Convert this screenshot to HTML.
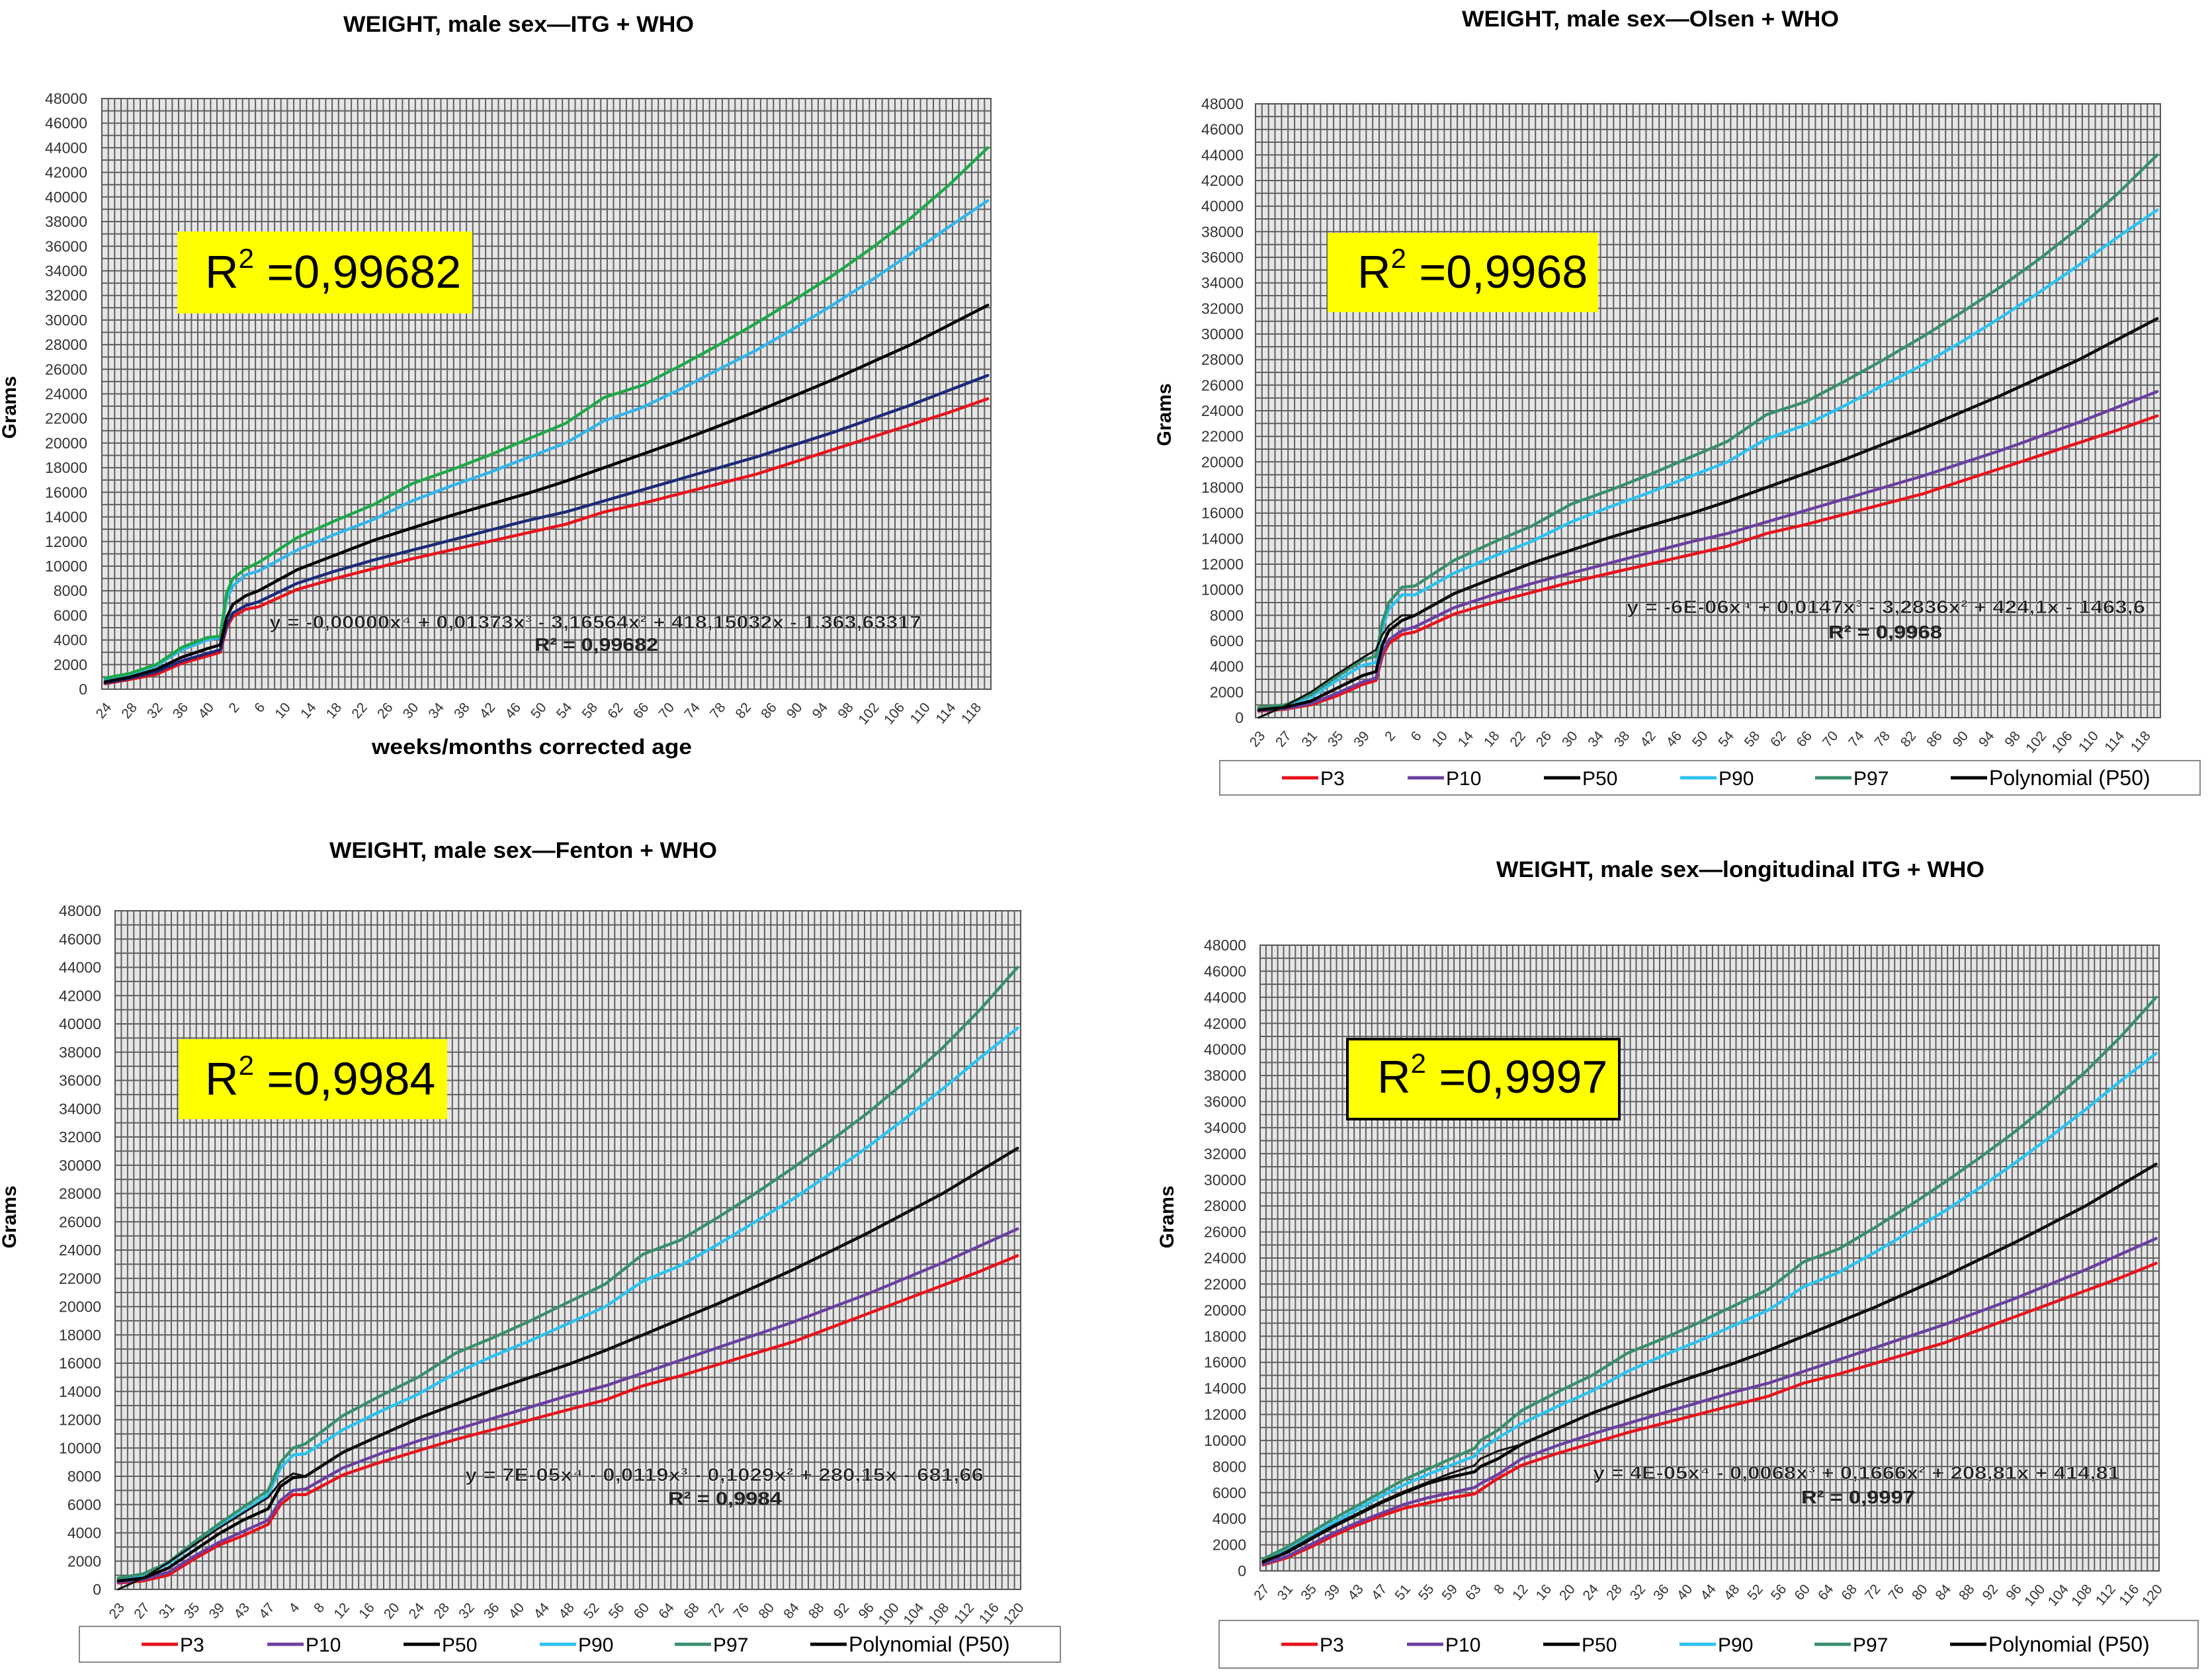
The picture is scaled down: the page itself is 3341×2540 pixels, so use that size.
<!DOCTYPE html>
<html><head><meta charset="utf-8"><style>
html,body{margin:0;padding:0;background:#fff;}
svg{display:block;font-family:"Liberation Sans",Arial,sans-serif;}
</style></head><body>
<svg id="root" width="3341" height="2540" viewBox="0 0 3341 2540" xmlns="http://www.w3.org/2000/svg"></svg>
<script>
// ===== shared WHO monthly data (grams) =====
const whoMonths=[6,12,18,24,30,36,42,48,54,60,66,72,78,84,90,96,102,108,114,120];
const whoP3 =[6700,8100,9000,9800,10600,11300,12000,12700,13400,14400,15100,15900,16700,17500,18500,19500,20500,21500,22500,23600];
const whoP10=[7100,8600,9600,10500,11300,12100,12900,13700,14400,15300,16200,17100,18000,18900,19900,20900,22000,23100,24300,25500];
const whoP50=[8000,9700,10900,12100,13100,14100,15000,15900,16900,18000,19100,20200,21400,22600,23900,25200,26600,28000,29600,31200];
const whoP90=[9600,11300,12600,13800,15300,16500,17600,18800,20000,21800,22900,24400,26000,27600,29400,31300,33300,35400,37600,39700];
const whoP97=[10300,12300,13700,15000,16700,17800,19000,20300,21600,23700,24700,26300,28000,29800,31700,33700,35900,38300,41000,44000];
const yTicks=[0,2000,4000,6000,8000,10000,12000,14000,16000,18000,20000,22000,24000,26000,28000,30000,32000,34000,36000,38000,40000,42000,44000,46000,48000];

// ===== chart 1: ITG + WHO =====
const c1Weeks=[24,28,32,36,40,42];
const c1Months=[1,2,4];
const c1P3 =[450,800,1200,2100,2700,3000,5000,5900,6500];
const c1P10=[500,900,1400,2300,2900,3200,5200,6200,6800];
const c1P50=[600,1000,1600,2600,3300,3600,5800,6900,7600];
const c1P90=[800,1200,1900,3200,4000,4200,7300,8400,9300];
const c1P97=[900,1300,2000,3400,4200,4300,7800,9000,9800];
// ===== chart 2: Olsen + WHO =====
const c2Weeks=[23,27,31,35,39,41];
const c2Months=[1,2,4];
const c2P3 =[500,650,1000,1700,2600,2900,4800,5800,6500];
const c2P10=[550,700,1100,1900,2800,3100,5100,6100,6800];
const c2P50=[600,800,1300,2300,3300,3600,5700,6800,7600];
const c2P90=[700,950,1600,2900,4100,4300,7000,8500,9600];
const c2P97=[800,1000,1800,3200,4500,4800,7500,9000,10200];
const c2Poly=[0,900,2000,3400,4700,5300,6500,7200,8000];
// ===== chart 3: Fenton + WHO =====
const c3Weeks=[23,27,31,35,39,43,47];
const c3Months=[2,4];
const c3P3 =[450,600,1000,2100,3100,3800,4600,6000,6700];
const c3P10=[500,700,1200,2300,3300,4100,4900,6300,7000];
const c3P50=[600,800,1500,2700,3900,4900,5700,7300,7900];
const c3P90=[750,1000,1800,3100,4400,5500,6700,8600,9500];
const c3P97=[800,1100,1900,3300,4600,5800,7000,9000,10000];
const c3Poly=[0,800,1900,3100,4300,5400,6500,7600,8200];
// ===== chart 4: longitudinal ITG + WHO =====
const c4Weeks=[27,31,35,39,43,47,51,55,59,63];
const c4Months=[5,8];
const c4P3 =[450,1000,1800,2700,3500,4200,4800,5200,5600,5900,6200,7100];
const c4P10=[500,1100,2000,2900,3700,4400,5100,5600,6000,6400,6700,7400];
const c4P50=[700,1400,2400,3400,4300,5200,6000,6700,7200,7600,8000,8600];
const c4P90=[800,1600,2600,3700,4700,5700,6600,7400,8100,8800,9300,10200];
const c4P97=[900,1800,2900,4000,5000,6000,7000,7800,8600,9400,10000,10800];
const c4Poly=[600,1500,2500,3500,4400,5300,6100,6800,7500,8100,8600,9200];

const NS='http://www.w3.org/2000/svg';
const root=document.getElementById('root');
function mk(tag,attrs,parent,text){const e=document.createElementNS(NS,tag);for(const k in attrs)e.setAttribute(k,attrs[k]);if(text!==undefined)e.textContent=text;(parent||root).appendChild(e);return e;}

const COL={p3:'#e8121c',p10:'#6b3fa0',p50:'#000',p90:'#2cc2ef',p97:'#3a8f6c',poly:'#000'};

function drawChart(c){
  const g=mk('g',{},root);
  
  
  const cats=[];
  for(let w=c.w0;w<=c.w1;w++)cats.push({t:'w',v:w});
  for(let m=c.m0;m<=120;m++)cats.push({t:'m',v:m});
  const n=cats.length;
  const step=(c.R-c.L)/n;
  const xIdx=i=>c.L+(i+0.5)*step;
  const xW=w=>xIdx(w-c.w0);
  const xM=m=>xIdx((c.w1-c.w0+1)+(m-c.m0));
  const y=v=>c.B-(v/48000)*(c.B-c.T);
  const bg=mk('rect',{x:c.L,y:c.T,width:c.R-c.L,height:c.B-c.T,fill:'#e6e6e6',stroke:'none'},g);
  
  
  let d='';
  for(let i=0;i<=n;i++){const x=(c.L+i*step).toFixed(1);d+=`M${x} ${c.T}V${c.B}`;}
  for(let v=0;v<=48000;v+=1000){const yy=y(v).toFixed(1);d+=`M${c.L} ${yy}H${c.R}`;}
  const grid=mk('path',{d:d,stroke:'#606060','stroke-width':2,fill:'none'},g);
  
  
  const frame=mk('rect',{x:c.L,y:c.T,width:c.R-c.L,height:c.B-c.T,fill:'none',stroke:'#555','stroke-width':2},g);
  
  
  yTicks.forEach(v=>{
    const t=mk('text',{x:c.yLab,y:y(v)+8,'text-anchor':'end','font-size':23,fill:'#333'},g,String(v));
    
    
  });
  for(let i=0;i<n;i+=4){
    const cx=xIdx(i), cy=c.B+24;
    const t=mk('text',{x:cx+6,y:cy+6,'text-anchor':'end','font-size':21,fill:'#333',transform:`rotate(-50 ${cx+6} ${cy})`},g,String(cats[i].v));
    
    
  }
  const ti=mk('text',{x:c.title[0],y:c.title[1],'font-size':34,'font-weight':'bold',fill:'#000',textLength:c.title[2],lengthAdjust:'spacingAndGlyphs'},g,c.titleText);
  
  
  const ga=mk('text',{x:c.grams[0],y:c.grams[1],'font-size':30,'font-weight':'bold','text-anchor':'middle',fill:'#000',transform:`rotate(-90 ${c.grams[0]} ${c.grams[1]})`},g,'Grams');
  
  
  if(c.xTitle){
    const xt=mk('text',{x:c.xTitle[0],y:c.xTitle[1],'font-size':32,'font-weight':'bold',fill:'#000',textLength:c.xTitle[2],lengthAdjust:'spacingAndGlyphs'},g,'weeks/months corrected age');
    
    
  }
  function pts(early,who){
    const p=[];
    c.weeks.forEach((w,i)=>p.push([xW(w),y(early[i])]));
    const nw=c.weeks.length;
    c.months.forEach((m,i)=>p.push([xM(m),y(early[nw+i])]));
    const lastM=c.months[c.months.length-1];
    whoMonths.forEach((m,i)=>{if(m>lastM)p.push([xM(m),y(who[i])]);});
    return p.map(q=>q[0].toFixed(1)+','+q[1].toFixed(1)).join(' ');
  }
  c.series.forEach(s=>{
    const pl=mk('polyline',{points:pts(s.early,s.who),fill:'none',stroke:s.color,'stroke-width':s.w||4.5,'stroke-linejoin':'round','stroke-linecap':'round'},g);
    
    
  });
  const bx=mk('rect',{x:c.box[0],y:c.box[1],width:c.box[2],height:c.box[3],fill:'#ffff00',stroke:c.boxBorder?'#000':'none','stroke-width':4},g);
  
  
  const rt=mk('text',{x:c.rtext[0],y:c.rtext[1],'font-size':70,fill:'#000'},g);
  
  
  mk('tspan',{},rt,'R');
  mk('tspan',{dy:-30,'font-size':42},rt,'2');
  mk('tspan',{dy:30},rt,' ='+c.r2);
  const eq=mk('text',{x:c.eq[0],y:c.eq[1],'font-size':28,'font-weight':'bold',fill:'#222',stroke:'#fff','stroke-width':0.6,textLength:c.eq[2],lengthAdjust:'spacingAndGlyphs'},g,c.eqText);
  
  
  const eq2=mk('text',{x:c.eq2[0],y:c.eq2[1],'font-size':28,'font-weight':'bold',fill:'#222',textLength:c.eq2[2],lengthAdjust:'spacingAndGlyphs'},g,'R² = '+c.r2);
  
  
  if(c.legend){
    const [lx,ly,lw,lh]=c.legend;
    const lg=mk('g',{},g);
    
    
    mk('rect',{x:lx,y:ly,width:lw,height:lh,fill:'#fff',stroke:'#888','stroke-width':2},lg);
    const items=[['P3',COL.p3],['P10',COL.p10],['P50','#000'],['P90',COL.p90],['P97',COL.p97],['Polynomial (P50)','#000']];
    const offs=[94,284,490,696,900,1105];
    const cy=ly+lh/2;
    items.forEach((it,i)=>{
      const e=mk('g',{},lg);
      
      
      mk('line',{x1:lx+offs[i],x2:lx+offs[i]+55,y1:cy,y2:cy,stroke:it[1],'stroke-width':5},e);
      mk('text',{x:lx+offs[i]+58,y:cy+11,'font-size':i==5?32:30,fill:'#000'},e,it[0]);
    });
  }
}

function ser(p3,p10,p50,p90,p97,poly){
  const s=[
    {key:'p3',early:p3,who:whoP3,color:COL.p3},
    {key:'p10',early:p10,who:whoP10,color:COL.p10},
    {key:'p90',early:p90,who:whoP90,color:COL.p90},
    {key:'p97',early:p97,who:whoP97,color:COL.p97},
    {key:'p50',early:p50,who:whoP50,color:'#000'}];
  if(poly)s.push({key:'polynomial-p50',early:poly,who:whoP50,color:'#111',w:3});
  return s;
}

drawChart({name:'chart-itg-who',L:154,R:1498,T:149,B:1042,w0:24,w1:42,m0:1,yLab:132,
  weeks:c1Weeks,months:c1Months,series:(()=>{const s=ser(c1P3,c1P10,c1P50,c1P90,c1P97);s[1].color='#1c2a78';s[3].color='#1fa84a';s[2].color='#33b5ea';return s;})(),
  title:[519,48,530],titleText:'WEIGHT, male sex\u2014ITG + WHO',grams:[24,616],xTitle:[562,1140,484],
  box:[268,350,446,124],boxBorder:false,rtext:[310,435],r2:'0,99682',
  eq:[407,950,986],eqText:'y = -0,00000x\u2074 + 0,01373x\u00b3 - 3,16564x\u00b2 + 418,15032x - 1.363,63317',eq2:[808,984,187]});

drawChart({name:'chart-olsen-who',L:1898,R:3266,T:157,B:1085,w0:23,w1:41,m0:1,yLab:1880,
  weeks:c2Weeks,months:c2Months,series:ser(c2P3,c2P10,c2P50,c2P90,c2P97,c2Poly),
  title:[2210,40,570],titleText:'WEIGHT, male sex\u2014Olsen + WHO',grams:[1770,627],
  box:[2007,352,409,120],boxBorder:false,rtext:[2052,435],r2:'0,9968',
  eq:[2459,927,784],eqText:'y = -6E-06x\u2074 + 0,0147x\u00b3 - 3,2836x\u00b2 + 424,1x - 1463,6',eq2:[2764,965,172],
  legend:[1844,1150,1482,52]});

drawChart({name:'chart-fenton-who',L:174,R:1543,T:1377,B:2403,w0:23,w1:47,m0:1,yLab:153,
  weeks:c3Weeks,months:c3Months,series:ser(c3P3,c3P10,c3P50,c3P90,c3P97,c3Poly),
  title:[498,1297,586],titleText:'WEIGHT, male sex\u2014Fenton + WHO',grams:[24,1840],
  box:[270,1571,406,121],boxBorder:false,rtext:[310,1655],r2:'0,9984',
  eq:[703,2239,784],eqText:'y = 7E-05x\u2074 - 0,0119x\u00b3 - 0,1029x\u00b2 + 280,15x - 681,66',eq2:[1010,2275,172],
  legend:[120,2459,1483,54]});

drawChart({name:'chart-longitudinal-itg-who',L:1905,R:3264,T:1429,B:2375,w0:27,w1:63,m0:5,yLab:1884,
  weeks:c4Weeks,months:c4Months,series:ser(c4P3,c4P10,c4P50,c4P90,c4P97,c4Poly),
  title:[2262,1326,738],titleText:'WEIGHT, male sex\u2014longitudinal ITG + WHO',grams:[1774,1840],
  box:[2037,1571,411,121],boxBorder:true,rtext:[2082,1652],r2:'0,9997',
  eq:[2408,2236,797],eqText:'y = 4E-05x\u2074 - 0,0068x\u00b3 + 0,1666x\u00b2 + 208,81x + 414,81',eq2:[2723,2273,172],
  legend:[1843,2450,1480,72]});
</script>
</body></html>
